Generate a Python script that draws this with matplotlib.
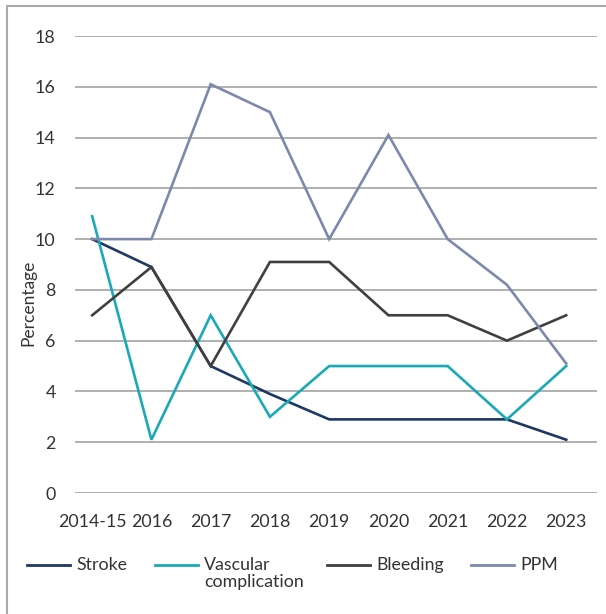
#!/usr/bin/env python3
import matplotlib
matplotlib.use("Agg")
import matplotlib.pyplot as plt
from matplotlib.lines import Line2D
from matplotlib.patches import Rectangle

plt.rcParams['font.family'] = ['Lato', 'DejaVu Sans']

years = ['2014-15', '2016', '2017', '2018', '2019', '2020', '2021', '2022', '2023']
stroke = [10.0, 8.9, 5.0, 3.9, 2.9, 2.9, 2.9, 2.9, 2.1]
vascular = [10.9, 2.1, 7.0, 3.0, 5.0, 5.0, 5.0, 2.9, 5.0]
bleeding = [7.0, 8.9, 5.0, 9.1, 9.1, 7.0, 7.0, 6.0, 7.0]
ppm = [10.0, 10.0, 16.1, 15.0, 10.0, 14.1, 10.0, 8.2, 5.1]

names = ['Stroke', 'Vascular\ncomplication', 'Bleeding', 'PPM']
colors = ['#1c3963', '#1aa9b6', '#404040', '#7c89ab']
series = [stroke, vascular, bleeding, ppm]

W, H = 606, 614
fig = plt.figure(figsize=(W / 100, H / 100), dpi=100)
ax = fig.add_axes([75 / W, 1 - 493 / H, (597 - 75) / W, (493 - 36) / H])

x = list(range(len(years)))
for vals, c in zip(series, colors):
    ax.plot(x, vals, color=c, lw=1.9, solid_joinstyle='miter')

ax.set_xlim(-0.29, 8.52)
ax.set_ylim(0, 18)
ax.set_yticks(range(0, 19, 2))
ax.set_xticks(x)
ax.set_xticklabels(years)
ax.yaxis.grid(True, color='#9a9a9a', lw=1.1)
ax.set_axisbelow(True)
for s in ax.spines.values():
    s.set_visible(False)
ax.tick_params(length=0, labelsize=12.8, labelcolor='#333333')
ax.tick_params(axis='y', pad=14)
ax.tick_params(axis='x', pad=15)

fig.text(28 / W, 1 - 303 / H, 'Percentage', rotation=90, ha='center', va='center',
         fontsize=12.5, color='#333333')

# legend drawn by hand
leg_x = [27, 155, 327, 471]
leg_y = 1 - 565 / H
for xs, name, c in zip(leg_x, names, colors):
    fig.add_artist(Line2D([xs / W, (xs + 43) / W], [leg_y, leg_y], color=c, lw=2))
    fig.text((xs + 49) / W, 1 - 557 / H, name, ha='left', va='top',
             fontsize=12.8, color='#333333', linespacing=1.1)

# outer frame
fig.add_artist(Rectangle((7 / W, -0.05), 1.1, 1 - 6 / H + 0.05, fill=False,
                         edgecolor='#aaaaaa', lw=1.5, transform=fig.transFigure))

fig.savefig('out.png', dpi=100)
